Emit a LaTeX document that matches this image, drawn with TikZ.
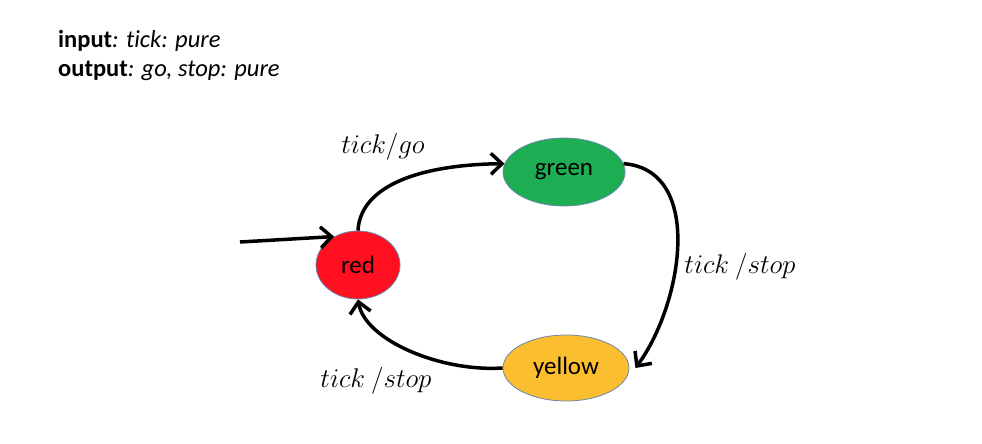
\documentclass[tikz,border=0pt]{standalone}
\usepackage{fix-cm}
\usepackage{fontspec}
\setmainfont{Carlito}[Ligatures=NoCommon]
\usetikzlibrary{shapes.geometric,arrows.meta}
\definecolor{stred}{HTML}{FF0F1F}
\definecolor{stgreen}{HTML}{1DAD52}
\definecolor{styellow}{HTML}{FBBE2F}
\definecolor{stborder}{HTML}{6A88B0}
\tikzset{
  state/.style={ellipse, draw=stborder, line width=0.8pt, inner sep=0pt, font=\fontsize{25}{30}\selectfont},
  trans/.style={line width=3.5pt, -{Straight Barb[length=11pt,width=21pt,line width=3.5pt]}},
  lbl/.style={font=\fontsize{27}{32}\selectfont},
  hdr/.style={anchor=base west, inner sep=0pt, font=\fontsize{24.5}{29}\selectfont}
}
\begin{document}
\begin{tikzpicture}[x=1pt,y=-1pt]
\useasboundingbox (0,0) rectangle (982,444);
\node[hdr] (in) at (58,48) {\textbf{input}\textit{: tick: pure}};
\node[hdr] (out) at (58,77) {\textbf{output}\textit{: go, stop: pure}};
\node[state, fill=stred, minimum width=84pt, minimum height=68pt] (red) at (358,265) {red};
\node[state, fill=stgreen, minimum width=122pt, minimum height=68pt] (green) at (564,172) {green};
\node[state, fill=styellow, minimum width=126pt, minimum height=66pt] (yellow) at (566,368) {yellow};
\coordinate (init) at (240,242);
\draw[trans] (init) -- (red.130);
\draw[trans] (red.north) .. controls (360,190) and (410,165) .. (green.172);
\draw[trans] (green.8) .. controls (705,170) and (682,305) .. ([xshift=6pt]yellow.east);
\draw[trans] (yellow.west) .. controls (440,372) and (365,340) .. (red.south);
\node[lbl] (l1) at (383,147) {$tick/go$};
\node[lbl] (l2) at (740,267) {$tick\ /stop$};
\node[lbl] (l3) at (376,381) {$tick\ /stop$};
\end{tikzpicture}
\end{document}
